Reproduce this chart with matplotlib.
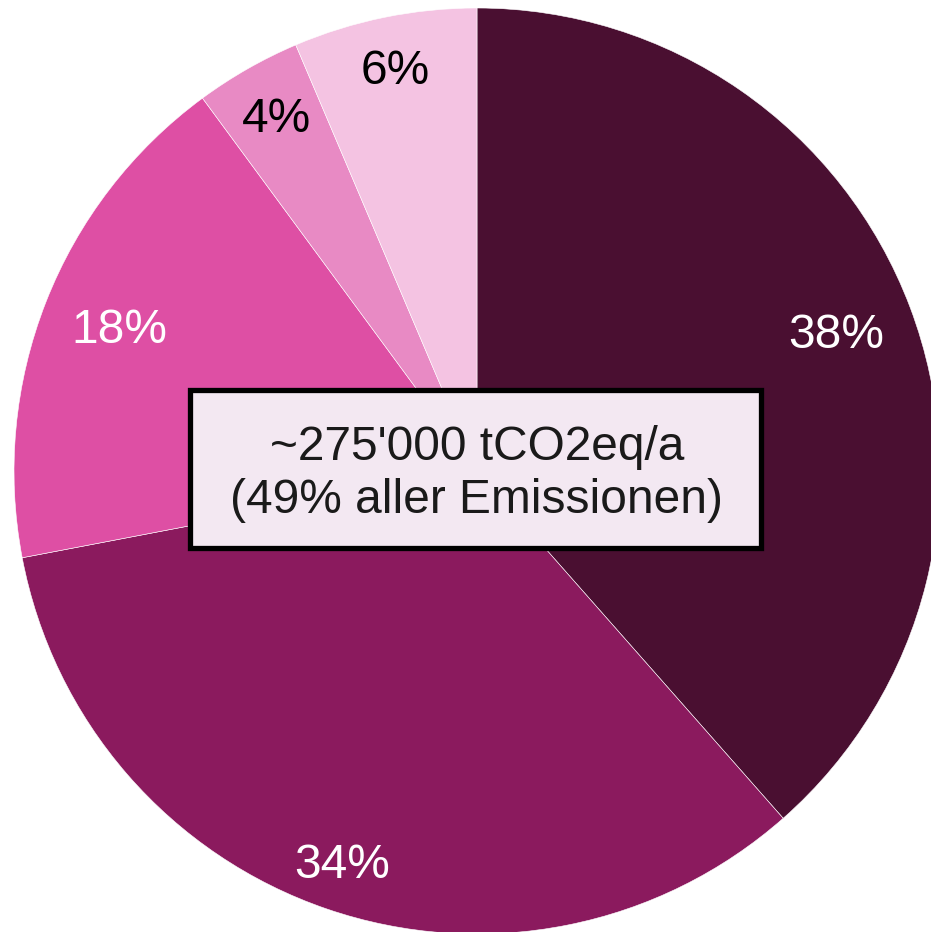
import numpy as np
import matplotlib
matplotlib.use("Agg")
import matplotlib.pyplot as plt
from matplotlib.patches import Rectangle

plt.rcParams["font.family"] = ["Liberation Sans", "DejaVu Sans"]

# shares (clockwise from top)
shares = [38.5, 33.5, 17.9, 3.7, 6.4]
labels = ["38%", "34%", "18%", "4%", "6%"]
colors = ["#4a0f31", "#8b1a5e", "#de4fa4", "#e88ac4", "#f4c3e2"]
label_colors = ["white", "white", "white", "black", "black"]
label_radius = [0.83, 0.90, 0.83, 0.875, 0.88]
center_text = "~275'000 tCO2eq/a\n(49% aller Emissionen)"

fig = plt.figure(figsize=(9.31, 9.32), dpi=100)
ax = fig.add_axes([14 / 931, (932 - 934) / 932, 926 / 931, 926 / 932])

wedges, _ = ax.pie(
    shares,
    colors=colors,
    startangle=90,
    counterclock=False,
    radius=1.0,
    wedgeprops=dict(edgecolor="white", linewidth=0.4),
)

for w, lab, col, r in zip(wedges, labels, label_colors, label_radius):
    mid = np.deg2rad((w.theta1 + w.theta2) / 2)
    ax.text(r * np.cos(mid), r * np.sin(mid), lab, ha="center", va="center",
            fontsize=34.5, color=col)

# framed box in the middle
ax.add_patch(Rectangle((-0.620, -0.166), 1.233, 0.341, facecolor="#f3e8f2",
                       edgecolor="black", linewidth=3.8, zorder=3))
ax.text(0, -0.006, center_text, ha="center", va="center", fontsize=34.5,
        color="#1a1a1a", linespacing=1.22, zorder=4)

ax.set_xlim(-1, 1)
ax.set_ylim(-1, 1)
ax.set_aspect("equal")
ax.axis("off")

fig.savefig("out.png", dpi=100)
plt.close(fig)
